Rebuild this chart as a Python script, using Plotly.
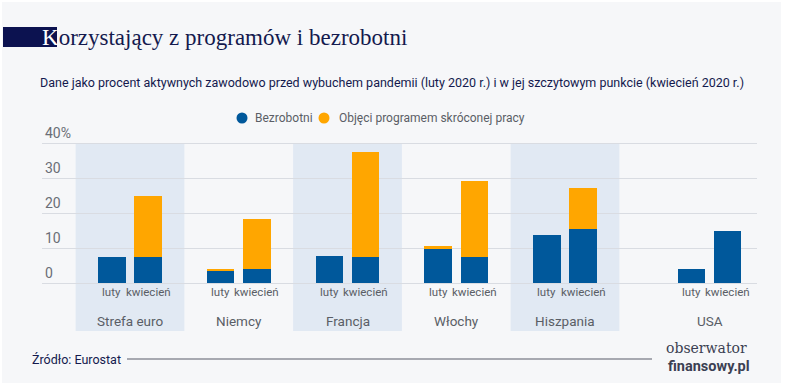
import plotly.graph_objects as go

# ---- data ----
groups = ["Strefa euro", "Niemcy", "Francja", "Włochy", "Hiszpania", "USA"]
group_pos = [0, 1, 2, 3, 4, 5.33]
months = ["luty", "kwiecień"]
bezrobotni_luty = [7.6, 3.6, 7.9, 9.9, 13.7, 4.2]
bezrobotni_kwiecien = [7.4, 4.2, 7.4, 7.5, 15.4, 14.9]
program_luty = [0.0, 0.6, 0.0, 0.8, 0.0, 0.0]
program_kwiecien = [17.5, 14.2, 30.2, 21.6, 11.7, 0.0]
y_ticks = [0, 10, 20, 30, 40]
y_tick_text = ["0", "10", "20", "30", "40%"]
shaded = [True, False, True, False, True, False]

BLUE = "#00589b"
ORANGE = "#ffa600"
BAND = "#e1e9f3"
BG = "#f6f7f9"
NAVY = "#141a4e"
GREY = "#5a5e66"
SANS = "Roboto, Liberation Sans, sans-serif"

W, H = 788, 386
ML, MR, MT, MB = 42, 31, 140, 55
PW, PH = W - ML - MR, H - MT - MB


def px(x):
    return (x - ML) / PW


def py(y):
    return (H - MB - y) / PH


off = 0.166
bw = 0.253
x_bars = []
bez = []
prog = []
for i, c in enumerate(group_pos):
    x_bars += [c - off, c + off]
    bez += [bezrobotni_luty[i], bezrobotni_kwiecien[i]]
    prog += [program_luty[i], program_kwiecien[i]]

fig = go.Figure()
fig.add_trace(go.Bar(x=x_bars, y=bez, width=bw, marker=dict(color=BLUE, line=dict(width=0)),
                     name="Bezrobotni", showlegend=False))
fig.add_trace(go.Bar(x=x_bars, y=prog, width=bw, marker=dict(color=ORANGE, line=dict(width=0)),
                     name="Objęci programem skróconej pracy", showlegend=False))

y_bottom = -13.63
y_top = 40.94

shapes = []
for i, c in enumerate(group_pos):
    if shaded[i]:
        shapes.append(dict(type="rect", xref="x", yref="y", x0=c - 0.5, x1=c + 0.5,
                           y0=y_bottom, y1=40, fillcolor=BAND, line=dict(width=0), layer="below"))

annotations = []
for i, c in enumerate(group_pos):
    for j, m in enumerate(months):
        annotations.append(dict(x=c + (-off if j == 0 else off), y=-2.4, xref="x", yref="y",
                                text=m, showarrow=False, yanchor="middle",
                                font=dict(family=SANS, size=11.5, color=GREY)))
    annotations.append(dict(x=c, y=-10.8, xref="x", yref="y", text=groups[i], showarrow=False,
                            yanchor="middle", font=dict(family=SANS, size=13.5, color=GREY)))

# title box (drawn below the title text)
shapes.append(dict(type="rect", xref="paper", yref="paper", x0=px(3), x1=px(57), y0=py(47), y1=py(27),
                   fillcolor="#0c1250", line=dict(width=0), layer="below"))
annotations.append(dict(x=px(40), y=py(37), xref="paper", yref="paper", xanchor="left", yanchor="middle",
                        text='<span style="color:#ffffff">K</span>orzystający z programów i bezrobotni',
                        showarrow=False, font=dict(family="Liberation Serif, serif", size=23, color=NAVY)))
# subtitle
annotations.append(dict(x=px(392), y=py(82), xref="paper", yref="paper", xanchor="center", yanchor="middle",
                        text="Dane jako procent aktywnych zawodowo przed wybuchem pandemii (luty 2020 r.) i w jej szczytowym punkcie (kwiecień 2020 r.)",
                        showarrow=False, font=dict(family=SANS, size=12.5, color=NAVY)))
# legend
legend_items = [("Bezrobotni", BLUE, 242, 253), ("Objęci programem skróconej pracy", ORANGE, 324, 337)]
for name, col, cx, tx in legend_items:
    shapes.append(dict(type="circle", xref="paper", yref="paper", x0=px(cx - 5.5), x1=px(cx + 5.5),
                       y0=py(118 + 5.5), y1=py(118 - 5.5), fillcolor=col, line=dict(width=0)))
    annotations.append(dict(x=px(tx), y=py(118), xref="paper", yref="paper", xanchor="left", yanchor="middle",
                            text=name, showarrow=False, font=dict(family=SANS, size=12, color=GREY)))
# footer
annotations.append(dict(x=px(30), y=py(359), xref="paper", yref="paper", xanchor="left", yanchor="middle",
                        text="Źródło: Eurostat", showarrow=False, font=dict(family=SANS, size=12.5, color=NAVY)))
shapes.append(dict(type="line", xref="paper", yref="paper", x0=px(127), x1=px(652), y0=py(359), y1=py(359),
                   line=dict(color="#8c8f98", width=1.5)))
annotations.append(dict(x=px(749), y=py(348), xref="paper", yref="paper", xanchor="right", yanchor="middle",
                        text="obserwator", showarrow=False,
                        font=dict(family="DejaVu Serif, serif", size=14, color="#3b3f52")))
annotations.append(dict(x=px(752), y=py(366), xref="paper", yref="paper", xanchor="right", yanchor="middle",
                        text="<b>finansowy.pl</b>", showarrow=False,
                        font=dict(family=SANS, size=14.5, color="#3b3f52")))

# card background
shapes.insert(0, dict(type="rect", xref="paper", yref="paper", x0=px(2), x1=px(781), y0=py(383), y1=py(2),
                      fillcolor=BG, line=dict(width=0), layer="below"))

fig.update_layout(
    width=W, height=H, margin=dict(l=ML, r=MR, t=MT, b=MB),
    paper_bgcolor="white", plot_bgcolor="rgba(0,0,0,0)",
    barmode="stack", bargap=0, showlegend=False,
    shapes=shapes, annotations=annotations,
    xaxis=dict(range=[(ML - 130) / 108.75, (W - MR - 130) / 108.75], showgrid=False, zeroline=False,
               showticklabels=False, fixedrange=True),
    yaxis=dict(range=[y_bottom, y_top], tickvals=y_ticks, ticktext=y_tick_text,
               ticklabelposition="inside top", ticklabeloverflow="allow",
               showgrid=True, gridcolor="#d9dce2", gridwidth=1, zeroline=False,
               tickfont=dict(family=SANS, size=14, color="#6a6e76"), fixedrange=True),
)

fig.write_html("out.html", config={"displayModeBar": False},
               post_script="document.body.style.margin='0';document.body.style.padding='0';document.body.style.overflow='hidden';")
